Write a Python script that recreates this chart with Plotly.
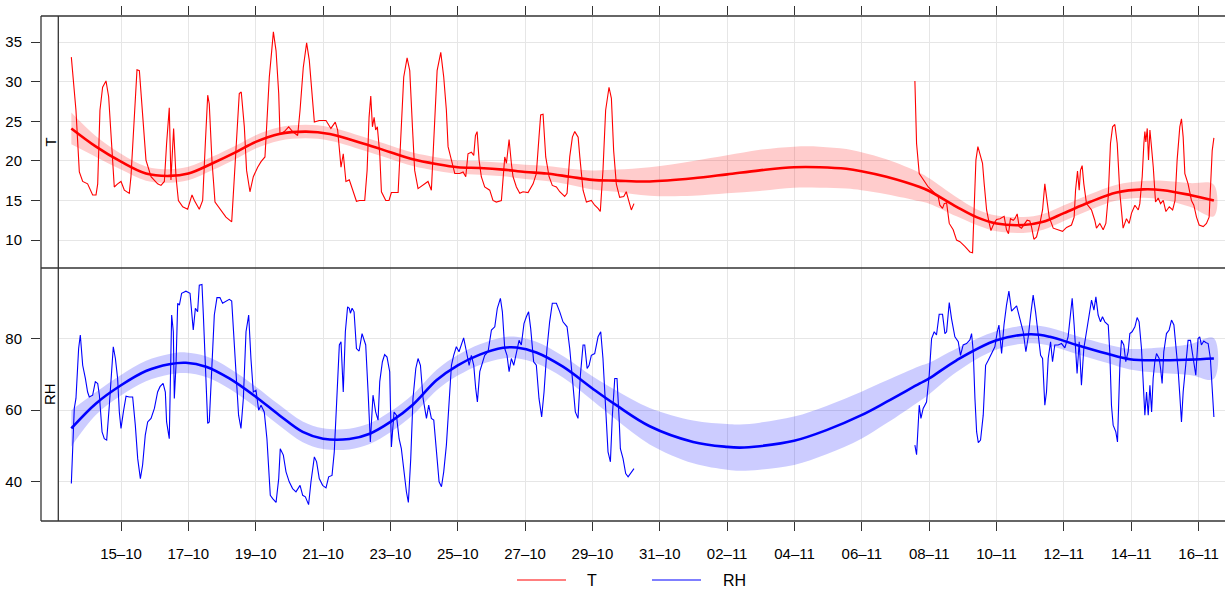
import pandas as pd
import plotly.graph_objects as go

# ---------------- data (hours after 15-10 00:00) ----------------
BASE = pd.Timestamp("2014-10-15 00:00")

T_hours_1 = [
    -35.4, -32.1, -29.7, -27.3, -23.8, -22.6, -20.2, -17.8, -16.6, -15.0,
    -13.1, -10.7, -8.8, -6.4, -4.8, -2.4, 0, 2.4, 5.9, 7.1,
    9.5, 11.4, 13.1, 15.4, 17.8, 21.4, 26.1, 28.5, 30.9, 32.5,
    34.4, 35.6, 37.5, 39.2, 40.9, 44.0, 47.5, 50.6, 52.3, 55.8,
    58.2, 60.1, 61.8, 62.9, 64.8, 67.0, 71.3, 74.8, 78.9, 80.8,
    82.4, 84.3, 85.7, 87.9, 89.5, 91.9, 94.3, 97.4, 99.8, 102.6,
    103.8, 105.7, 107.4, 108.6, 110.5, 112.4, 113.3, 116.4, 119.5, 122.3,
    125.9, 127.6, 129.9, 132.3, 134.2, 136.1, 137.8, 141.3, 146.1, 149.6,
    152.7, 154.4, 156.8, 158.4, 160.3, 162.7, 165.4, 167.8, 170.1, 173.7,
    175.4, 176.8, 178.0, 179.2, 180.4, 181.5, 182.7, 184.4, 185.6, 188.7,
    191.0, 192.7, 197.5, 199.1, 201.5, 203.9, 205.8, 207.7, 209.3, 211.7,
    216.5, 218.8, 221.2, 222.9, 225.3, 227.9, 230.0, 231.9, 233.1, 235.5,
    237.9, 241.4, 243.8, 245.7, 247.3, 249.7, 251.4, 252.6, 253.8, 255.2,
    256.8, 259.2, 262.8, 265.1, 267.5, 271.1, 273.5, 274.7, 276.6, 278.2,
    279.4, 281.8, 284.2, 286.5, 290.1, 293.7, 296.0, 297.9, 299.1, 300.8,
    302.7, 305.1, 307.4, 310.3, 312.7, 316.2, 317.9, 319.8, 321.7, 323.4,
    325.8, 327.0, 329.3, 331.7, 335.2, 337.6, 340.0, 341.6, 343.5, 345.4,
    347.8, 349.5, 351.1, 353.0, 355.4, 358.3, 360.1, 361.8, 363.7, 365.6,
]
T_values_1 = [
    33.1, 26.4, 18.6, 17.4, 17.1, 16.7, 15.7, 15.7, 17.1, 26.4,
    29.3, 30.1, 28.1, 21.3, 16.7, 17.1, 17.4, 16.3, 15.9, 18.0,
    26.4, 31.5, 31.4, 26.4, 20.1, 18.0, 17.1, 16.9, 17.4, 22.2,
    26.7, 17.6, 24.1, 18.0, 15.0, 14.2, 13.9, 15.7, 15.0, 13.9,
    15.0, 22.2, 28.3, 27.2, 20.1, 14.8, 13.8, 12.9, 12.3, 18.0,
    24.3, 28.5, 28.7, 24.3, 18.8, 16.1, 18.0, 19.2, 19.9, 20.5,
    24.3, 30.6, 33.9, 36.3, 33.9, 28.5, 23.4, 23.7, 24.3, 23.7,
    23.2, 26.4, 31.8, 34.9, 32.7, 28.1, 24.9, 25.1, 25.1, 24.1,
    24.9, 23.9, 19.2, 20.9, 17.4, 17.6, 16.3, 14.9, 15.0, 15.0,
    18.8, 25.5, 28.2, 24.3, 25.5, 23.9, 24.3, 20.9, 16.1, 15.0,
    15.0, 16.0, 16.0, 22.2, 30.6, 33.0, 31.4, 24.3, 18.8, 16.5,
    17.1, 17.4, 16.3, 22.2, 31.4, 33.7, 30.6, 26.4, 21.8, 20.1,
    18.4, 18.4, 18.6, 18.0, 20.9, 21.1, 20.7, 23.2, 23.7, 20.1,
    18.0, 16.7, 16.3, 15.0, 14.8, 15.0, 20.5, 19.7, 22.7, 19.7,
    18.0, 16.7, 15.9, 16.1, 16.0, 17.1, 18.4, 23.0, 25.8, 25.9,
    20.5, 18.0, 16.9, 16.7, 16.1, 15.5, 15.9, 20.5, 23.0, 23.7,
    23.0, 20.5, 16.3, 14.8, 15.0, 14.4, 14.0, 13.6, 18.8, 26.4,
    29.3, 27.9, 21.3, 17.1, 15.4, 15.5, 16.1, 15.0, 13.8, 14.6,
]
T_hours_2 = [
    565.8, 567.0, 568.9, 571.7, 575.3, 578.9, 582.4, 583.6, 585.5, 586.7,
    588.4, 590.3, 593.1, 595.5, 597.9, 601.4, 605.0, 606.9, 608.1, 609.3,
    610.7, 612.6, 614.0, 615.2, 616.9, 618.8, 620.0, 622.1, 624.0, 626.4,
    629.4, 631.1, 632.5, 633.9, 635.9, 637.0, 638.7, 640.1, 641.8, 644.2,
    645.8, 647.7, 648.9, 650.6, 652.5, 654.9, 656.8, 658.4, 659.6, 661.5,
    664.4, 667.9, 671.0, 673.9, 677.4, 679.3, 680.3, 681.7, 682.9, 683.8,
    685.0, 686.2, 688.1, 691.7, 694.0, 695.2, 697.6, 700.0, 701.9, 703.6,
    705.2, 706.7, 708.3, 710.0, 711.9, 714.2, 716.6, 718.5, 720.2, 722.6,
    725.0, 726.1, 727.8, 729.0, 729.7, 730.4, 731.4, 732.3, 733.3, 734.2,
    735.7, 737.3, 739.2, 740.9, 742.8, 744.7, 747.1, 749.5, 751.2, 752.7,
    754.6, 755.8, 757.0, 758.2, 760.5, 762.9, 764.6, 766.5, 768.4, 771.3,
    773.6, 775.5, 776.7, 777.7, 778.9,
]
T_values_2 = [
    30.1, 22.2, 18.4, 17.6, 16.7, 16.1, 15.5, 14.4, 14.0, 14.6,
    14.7, 12.1, 11.3, 10.0, 9.8, 9.2, 8.5, 8.4, 13.8, 20.1,
    21.8, 20.5, 19.7, 17.1, 13.8, 12.1, 11.2, 12.1, 12.6, 12.7,
    13.0, 11.3, 10.8, 12.7, 12.5, 12.7, 13.3, 11.7, 11.5, 12.1,
    12.5, 12.4, 11.7, 10.1, 10.4, 12.1, 13.8, 17.1, 15.5, 12.9,
    11.5, 11.3, 11.1, 11.6, 11.9, 12.9, 16.3, 18.7, 16.3, 18.8,
    19.4, 17.1, 14.6, 13.8, 12.5, 11.5, 12.1, 11.3, 12.1, 15.5,
    22.2, 24.3, 24.6, 22.2, 15.9, 11.5, 12.7, 12.1, 13.4, 14.4,
    13.8, 14.6, 18.0, 22.2, 23.7, 22.4, 24.1, 20.1, 23.9, 22.2,
    19.2, 14.8, 15.3, 14.6, 15.0, 13.6, 14.2, 13.8, 15.0, 20.1,
    24.3, 25.3, 23.0, 18.4, 17.1, 15.0, 14.4, 12.9, 11.9, 11.7,
    12.1, 12.9, 17.6, 21.3, 22.9,
]

RH_hours_1 = [
    -35.4, -34.4, -33.3, -32.1, -30.2, -29.0, -27.3, -25.4, -23.8, -22.6,
    -20.2, -18.3, -16.6, -15.4, -13.5, -11.9, -10.2, -8.3, -6.4, -5.5,
    -4.0, -2.4, -1.2, 0, 1.7, 3.6, 5.9, 8.3, 10.2, 11.9,
    13.8, 15.4, 17.3, 19.0, 21.4, 23.8, 26.1, 27.8, 30.0, 31.6,
    32.5, 34.4, 36.1, 37.3, 38.0, 39.2, 40.4, 41.6, 43.2, 46.3,
    49.2, 50.6, 51.5, 53.0, 54.6, 55.8, 57.7, 58.7, 60.1, 61.8,
    62.9, 64.8, 66.5, 68.4, 70.5, 72.4, 74.8, 77.2, 78.9, 80.0,
    81.9, 83.8, 85.5, 87.2, 89.1, 91.0, 92.6, 94.3, 96.2, 98.1,
    99.8, 102.1, 104.0, 105.2, 106.4, 108.1, 110.5, 112.4, 113.5, 115.7,
    117.6, 119.9, 122.3, 124.7, 127.6, 129.5, 131.4, 133.7, 135.4, 137.8,
    139.4, 141.3, 143.7, 146.1, 148.0, 150.4, 152.0, 153.7, 155.6, 156.8,
    158.4, 159.9, 161.5, 162.7, 163.5, 164.7, 166.1, 167.8, 169.7, 171.8,
    174.4, 176.1, 177.7, 179.6, 181.5, 183.2, 184.4, 186.3, 187.9, 189.6,
    191.5, 192.7, 194.6, 196.3, 198.2, 199.8, 201.5, 203.4, 204.8, 206.5,
    208.1, 210.1, 211.7, 213.4, 215.3, 217.7, 219.3, 221.2, 222.9, 224.8,
    226.7, 228.4, 230.0, 231.9, 233.8, 235.5, 237.1, 239.0, 240.9, 242.6,
    244.2, 246.2, 248.1, 249.7, 251.4, 252.8, 254.0, 255.7, 257.6, 259.2,
    261.6, 264.0, 266.4, 268.2, 270.4, 271.8, 273.5, 275.1, 276.6, 278.2,
    279.9, 281.8, 283.7, 285.3, 287.2, 288.9, 290.5, 292.0, 294.1, 296.0,
    297.9, 299.8, 301.5, 303.6, 305.5, 307.4, 310.3, 312.7, 315.0, 317.9,
    319.8, 321.7, 323.8, 325.7, 327.4, 329.3, 330.5, 332.2, 333.6, 335.2,
    337.6, 340.0, 341.9, 343.5, 345.4, 347.1, 348.8, 350.2, 351.9, 353.5,
    355.0, 355.9, 357.8, 359.7, 361.4, 363.2, 365.6,
]
RH_values_1 = [
    39.4, 48.3, 60.5, 63.3, 77.3, 81.1, 72.6, 68.9, 65.1, 63.7,
    64.2, 68.0, 67.5, 64.2, 53.9, 52.0, 51.6, 61.4, 73.1, 77.8,
    74.5, 68.9, 59.5, 54.9, 59.5, 63.9, 63.7, 63.7, 55.8, 46.4,
    40.8, 44.6, 53.0, 56.7, 57.7, 60.5, 65.1, 66.6, 67.5, 65.1,
    56.7, 52.0, 86.7, 82.0, 63.3, 72.6, 90.0, 89.5, 92.8, 93.4,
    92.8, 87.6, 82.5, 88.6, 87.6, 95.1, 95.3, 86.7, 72.6, 56.3,
    56.7, 72.6, 86.7, 91.6, 91.6, 90.0, 90.5, 91.1, 90.6, 83.9,
    70.8, 58.6, 54.9, 63.3, 82.0, 86.7, 74.5, 65.1, 65.6, 60.0,
    61.4, 59.5, 52.0, 44.6, 36.1, 35.2, 34.1, 40.8, 49.2, 47.4,
    42.7, 39.9, 38.0, 37.1, 38.9, 36.1, 35.7, 33.5, 39.9, 46.9,
    45.5, 40.8, 38.9, 38.2, 41.3, 41.7, 48.3, 62.3, 78.3, 79.2,
    65.1, 82.0, 89.0, 88.6, 87.2, 88.6, 87.6, 77.3, 76.6, 81.5,
    78.3, 65.1, 51.1, 64.2, 59.5, 57.2, 68.0, 73.6, 75.6, 74.9,
    70.8, 49.7, 59.5, 58.6, 52.0, 49.2, 42.7, 37.1, 34.1, 46.4,
    63.3, 71.7, 74.5, 72.6, 63.3, 57.7, 61.4, 57.7, 57.2, 48.3,
    39.9, 38.5, 42.7, 50.2, 61.4, 72.6, 75.4, 77.8, 76.4, 78.3,
    80.3, 76.4, 72.6, 75.4, 72.6, 66.1, 62.3, 70.8, 73.6, 75.4,
    76.4, 82.5, 83.4, 88.6, 91.4, 87.6, 77.3, 75.4, 70.8, 74.5,
    72.6, 76.4, 79.6, 78.3, 84.3, 86.2, 87.6, 82.9, 73.6, 72.6,
    63.3, 58.1, 65.1, 77.3, 84.8, 90.0, 90.0, 87.6, 84.8, 83.4,
    77.3, 68.9, 59.5, 57.7, 69.8, 78.3, 78.3, 71.7, 72.6, 75.4,
    75.9, 80.6, 82.0, 74.5, 61.4, 48.3, 45.5, 58.6, 68.9, 68.9,
    57.7, 49.2, 46.4, 42.2, 41.3, 42.2, 43.6,
]
RH_hours_2 = [
    565.8, 567.0, 568.9, 570.1, 571.7, 574.1, 576.0, 577.7, 579.6, 581.2,
    583.1, 585.5, 587.2, 588.4, 590.3, 591.9, 594.3, 596.7, 598.3, 600.2,
    602.6, 605.0, 606.2, 607.4, 608.6, 609.8, 611.0, 612.6, 614.5, 616.2,
    618.1, 620.5, 622.8, 624.5, 625.7, 627.6, 629.3, 631.1, 632.8, 634.7,
    636.4, 638.3, 640.6, 643.0, 644.9, 646.6, 648.3, 650.1, 651.8, 653.7,
    655.4, 656.8, 658.4, 659.6, 660.8, 662.5, 663.9, 665.5, 667.9, 670.3,
    672.7, 675.0, 676.2, 677.9, 679.3, 680.5, 681.4, 682.9, 684.5, 686.2,
    688.1, 690.0, 691.7, 693.4, 694.8, 696.4, 698.1, 699.5, 701.2, 703.6,
    704.7, 705.9, 707.1, 709.0, 710.2, 711.9, 713.0, 714.7, 716.1, 717.8,
    719.0, 720.6, 722.6, 724.2, 725.6, 727.3, 728.5, 729.7, 730.9, 732.1,
    733.3, 734.5, 735.6, 736.8, 738.0, 739.9, 740.9, 742.0, 743.2, 745.1,
    747.0, 748.7, 750.4, 751.8, 753.5, 754.6, 755.8, 757.0, 758.9, 760.5,
    762.2, 763.6, 764.8, 766.0, 767.6, 768.8, 770.0, 771.7, 773.1, 774.8,
    776.4, 777.9, 778.9,
]
RH_values_2 = [
    50.2, 47.5, 61.4, 57.7, 60.5, 62.3, 69.8, 80.1, 82.0, 81.1,
    86.9, 86.9, 81.5, 82.0, 90.2, 85.7, 80.6, 79.2, 75.4, 78.3,
    78.7, 79.7, 81.5, 76.4, 63.3, 53.9, 50.9, 51.6, 58.6, 72.6,
    74.0, 75.9, 77.8, 82.0, 83.9, 75.9, 83.9, 89.5, 93.4, 87.8,
    88.6, 89.3, 85.7, 82.0, 76.4, 80.6, 86.7, 92.3, 87.6, 80.1,
    75.4, 74.5, 61.4, 65.1, 74.5, 79.2, 73.6, 78.3, 78.3, 78.7,
    77.5, 80.6, 85.7, 91.4, 83.9, 77.3, 70.3, 79.2, 67.0, 77.3,
    82.0, 86.2, 90.9, 88.1, 91.8, 86.7, 84.8, 86.2, 84.8, 83.9,
    76.4, 61.4, 55.8, 53.9, 51.1, 72.6, 79.6, 78.3, 73.6, 76.4,
    81.5, 82.0, 83.4, 86.0, 84.8, 77.3, 68.0, 58.6, 65.1, 58.6,
    67.0, 59.5, 68.9, 73.6, 75.9, 74.5, 71.7, 67.5, 76.4, 81.5,
    82.5, 85.3, 83.9, 78.3, 70.8, 64.2, 56.7, 65.1, 72.6, 79.6,
    79.6, 76.4, 72.6, 69.8, 80.1, 80.6, 78.3, 79.4, 79.0, 78.7,
    74.5, 65.1, 58.1,
]

# smooth trends (GAM fits) with half-width of the 95% band
T_smooth_hours = [-35.4, -17.8, 0, 17.8, 34.4, 48, 65.3, 81.9, 96, 112.8, 131.8, 148.8,
                  172.5, 192, 208, 224.8, 240, 255.7, 272.3, 288, 303.2, 319.8, 336, 353,
                  376.8, 407.8, 432, 455.3, 479.7, 498, 517, 527.7, 545.5, 569.3, 576,
                  595.5, 609.7, 624, 643, 657.2, 672, 690.5, 709.5, 728.5, 742.7, 761.7, 778.9]
T_smooth = [24.1, 21.8, 19.9, 18.4, 18.1, 18.4, 19.7, 21.1, 22.4, 23.4, 23.7, 23.4,
            22.2, 21.1, 20.2, 19.6, 19.2, 19.1, 18.9, 18.6, 18.4, 18.0, 17.6, 17.5,
            17.4, 17.8, 18.3, 18.8, 19.2, 19.2, 19.0, 18.7, 18.0, 16.7, 16.2,
            14.2, 12.9, 12.1, 11.9, 12.3, 13.4, 14.8, 16.0, 16.4, 16.3, 15.7, 15.0]
T_smooth_band = [2.0, 1.3, 1.0, 0.9, 0.85, 0.85, 0.85, 0.85, 0.85, 0.85, 0.85, 0.85,
                 0.85, 0.85, 0.85, 0.85, 0.85, 0.85, 0.85, 0.9, 0.95, 1.0, 1.2, 1.4,
                 1.8, 2.2, 2.4, 2.6, 2.6, 2.6, 2.5, 2.4, 2.2, 1.8, 1.6,
                 1.2, 1.0, 1.0, 1.0, 1.0, 1.0, 1.0, 1.0, 1.05, 1.2, 1.5, 2.0]

RH_smooth_hours = [-35.4, -17.8, 0, 17.8, 34.4, 46.3, 60.6, 77.2, 96.2, 112.8, 129.5, 144,
                   162.7, 177.3, 192, 208.2, 224.8, 240, 255.7, 272.3, 281.8, 296, 315, 336,
                   353, 376.8, 407.8, 432, 441, 455.3, 479.7, 502.8, 527.7, 545.5, 569.3,
                   576, 595.5, 624, 648, 662, 681, 702.4, 719, 738, 761.7, 778.9]
RH_smooth = [54.9, 61.9, 67.0, 71.0, 72.9, 73.3, 72.2, 68.9, 63.7, 58.6, 53.9, 52.0,
             51.9, 53.4, 56.7, 61.6, 68.4, 72.6, 75.6, 77.5, 77.6, 76.2, 72.2, 66.1,
             61.4, 55.5, 51.1, 49.7, 49.5, 49.9, 51.4, 54.4, 58.6, 62.3, 67.5,
             68.9, 74.0, 79.6, 81.3, 80.6, 78.3, 75.9, 74.3, 74.0, 74.2, 74.5]
RH_smooth_band = [5.1, 3.2, 2.9, 2.9, 2.9, 2.9, 2.9, 2.9, 2.9, 2.9, 2.9, 2.9,
                  2.9, 2.9, 2.9, 2.9, 2.9, 2.9, 2.9, 3.0, 3.0, 3.0, 3.0, 3.4,
                  4.1, 5.1, 6.0, 6.4, 6.5, 6.6, 6.8, 6.8, 6.6, 6.0, 4.9,
                  4.4, 3.3, 2.6, 2.5, 2.5, 2.5, 2.6, 2.9, 3.5, 4.3, 5.7]

T_ticks = [10, 15, 20, 25, 30, 35]
RH_ticks = [40, 60, 80]
date_tick_labels = ["15–10", "17–10", "19–10", "21–10", "23–10", "25–10", "27–10", "29–10",
                    "31–10", "02–11", "04–11", "06–11", "08–11", "10–11", "12–11", "14–11", "16–11"]
date_tick_days = [0, 2, 4, 6, 8, 10, 12, 14, 16, 18, 20, 22, 24, 26, 28, 30, 32]

# ---------------- helpers ----------------
def to_time(hours):
    return [BASE + pd.Timedelta(hours=h) for h in hours]

def gapped(h1, v1, h2, v2):
    return to_time(h1) + [None] + to_time(h2), list(v1) + [None] + list(v2)

W, H = 1225, 592
ML, MR, MT, MB = 41, 0, 16, 71
PW, PH = W - ML - MR, H - MT - MB

def px(x):
    return (x - ML) / PW

def py(y):
    return (H - MB - y) / PH

split = py(268)
FONT = "Liberation Sans, Arial, Helvetica, sans-serif"
FRAME = "#333333"
GRID = "#E6E6E6"

fig = go.Figure()

def add_series(h1, v1, h2, v2, sh, sv, sb, color, band_color, xa, ya):
    st = to_time(sh)
    up = [a + b for a, b in zip(sv, sb)]
    lo = [a - b for a, b in zip(sv, sb)]
    fig.add_trace(go.Scatter(x=st + st[::-1], y=up + lo[::-1], fill="toself",
                             fillcolor=band_color, line=dict(width=0, shape="spline"),
                             mode="lines", hoverinfo="skip", showlegend=False,
                             xaxis=xa, yaxis=ya))
    xs, ys = gapped(h1, v1, h2, v2)
    fig.add_trace(go.Scatter(x=xs, y=ys, mode="lines", line=dict(color=color, width=1.1),
                             connectgaps=False, showlegend=False, xaxis=xa, yaxis=ya))
    fig.add_trace(go.Scatter(x=st, y=sv, mode="lines",
                             line=dict(color=color, width=2.6, shape="spline"),
                             showlegend=False, xaxis=xa, yaxis=ya))

add_series(T_hours_1, T_values_1, T_hours_2, T_values_2, T_smooth_hours, T_smooth,
           T_smooth_band, "#FF0000", "rgba(255,0,0,0.2)", "x2", "y2")
add_series(RH_hours_1, RH_values_1, RH_hours_2, RH_values_2, RH_smooth_hours, RH_smooth,
           RH_smooth_band, "#0000FF", "rgba(0,0,255,0.2)", "x", "y")

x_left_h = (ML - 121.0) / 33.675 * 24
x_right_h = (W - MR - 121.0) / 33.675 * 24
xrange = [BASE + pd.Timedelta(hours=x_left_h), BASE + pd.Timedelta(hours=x_right_h)]
tickvals = [BASE + pd.Timedelta(days=d) for d in date_tick_days]

common_x = dict(range=xrange, tickvals=tickvals, showgrid=True, gridcolor=GRID, gridwidth=1,
                zeroline=False, showline=False, ticks="outside", ticklen=9, tickwidth=1.2,
                tickcolor=FRAME)
common_y = dict(showgrid=True, gridcolor=GRID, gridwidth=1, zeroline=False, showline=False,
                ticks="outside", ticklen=9, tickwidth=1.2, tickcolor=FRAME,
                tickfont=dict(family=FONT, size=15, color="black"), ticklabelstandoff=6)

fig.update_layout(
    width=W, height=H, margin=dict(l=ML, r=MR, t=MT, b=MB, autoexpand=False),
    paper_bgcolor="white", plot_bgcolor="white", showlegend=False,
    font=dict(family=FONT, size=15, color="black"),
    xaxis=dict(domain=[0, 1], anchor="y", ticktext=date_tick_labels,
               tickfont=dict(family=FONT, size=15, color="black"), ticklabelstandoff=10,
               **common_x),
    xaxis2=dict(domain=[0, 1], anchor="y2", side="top", matches="x", showticklabels=False,
                **common_x),
    yaxis=dict(domain=[0, split], range=[28.9, 99.9], tickvals=RH_ticks, **common_y),
    yaxis2=dict(domain=[split, 1], range=[6.47, 38.3], tickvals=T_ticks, **common_y),
)

strip_r = px(58.3)
shapes = [
    dict(type="rect", xref="paper", yref="paper", x0=0, x1=strip_r, y0=0, y1=1,
         fillcolor="white", line=dict(width=0), layer="above"),
    dict(type="line", xref="paper", yref="paper", x0=0, x1=0, y0=0, y1=1,
         line=dict(color=FRAME, width=1.3), layer="above"),
    dict(type="line", xref="paper", yref="paper", x0=strip_r, x1=strip_r, y0=0, y1=1,
         line=dict(color=FRAME, width=1.3), layer="above"),
    dict(type="line", xref="paper", yref="paper", x0=0, x1=1, y0=1, y1=1,
         line=dict(color=FRAME, width=1.3), layer="above"),
    dict(type="line", xref="paper", yref="paper", x0=0, x1=1, y0=0, y1=0,
         line=dict(color=FRAME, width=1.3), layer="above"),
    dict(type="line", xref="paper", yref="paper", x0=0, x1=1, y0=split, y1=split,
         line=dict(color=FRAME, width=1.3), layer="above"),
    # legend keys
    dict(type="line", xref="paper", yref="paper", x0=px(517), x1=px(566), y0=py(580), y1=py(580),
         line=dict(color="#FF0000", width=1.2)),
    dict(type="line", xref="paper", yref="paper", x0=px(652), x1=px(701), y0=py(580), y1=py(580),
         line=dict(color="#0000FF", width=1.2)),
]
fig.update_layout(shapes=shapes)

annotations = [
    dict(text="T", x=px(49.5), y=py(142), xref="paper", yref="paper", textangle=-90,
         showarrow=False, xanchor="center", yanchor="middle", font=dict(size=15)),
    dict(text="RH", x=px(49.5), y=py(394.5), xref="paper", yref="paper", textangle=-90,
         showarrow=False, xanchor="center", yanchor="middle", font=dict(size=15)),
    dict(text="T", x=px(585), y=py(580), xref="paper", yref="paper", showarrow=False,
         xanchor="left", yanchor="middle", font=dict(size=16)),
    dict(text="RH", x=px(721), y=py(580), xref="paper", yref="paper", showarrow=False,
         xanchor="left", yanchor="middle", font=dict(size=16)),
]
fig.update_layout(annotations=annotations)

fig.write_html("out.html")
